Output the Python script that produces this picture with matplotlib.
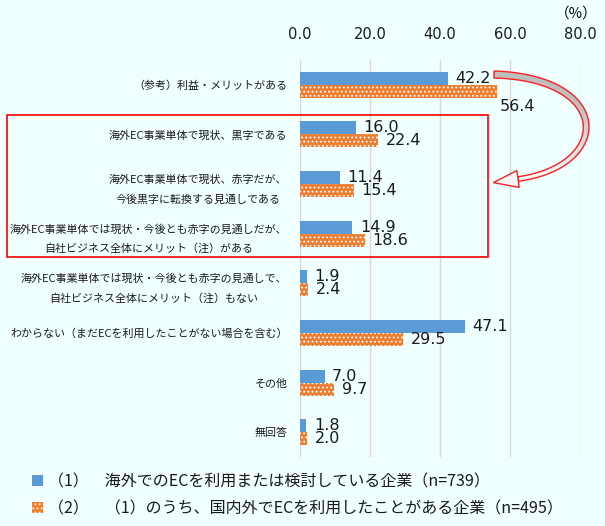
import numpy as np
import matplotlib
matplotlib.use('Agg')
import matplotlib.pyplot as plt
from matplotlib.patches import Rectangle, Polygon

# ---------------- data ----------------
categories = [
    "（参考）利益・メリットがある",
    "海外EC事業単体で現状、黒字である",
    "海外EC事業単体で現状、赤字だが、\n今後黒字に転換する見通しである",
    "海外EC事業単体では現状・今後とも赤字の見通しだが、\n自社ビジネス全体にメリット（注）がある",
    "海外EC事業単体では現状・今後とも赤字の見通しで、\n自社ビジネス全体にメリット（注）もない",
    "わからない（まだECを利用したことがない場合を含む）",
    "その他",
    "無回答",
]
series1 = [42.2, 16.0, 11.4, 14.9, 1.9, 47.1, 7.0, 1.8]
series2 = [56.4, 22.4, 15.4, 18.6, 2.4, 29.5, 9.7, 2.0]
series_labels = [
    "（1）　海外でのECを利用または検討している企業（n=739）",
    "（2）　（1）のうち、国内外でECを利用したことがある企業（n=495）",
]
xticks = [0, 20, 40, 60, 80]
unit_label = "（%）"

# ---------------- style ----------------
plt.rcParams['font.family'] = ['Noto Sans CJK JP', 'DejaVu Sans']
plt.rcParams['hatch.linewidth'] = 0.8
BG = '#F0FFFF'
BLUE = '#5B9BD5'
ORANGE = '#ED7D31'
W, H = 605, 526

fig = plt.figure(figsize=(W / 100, H / 100), dpi=100, facecolor=BG)
ax = fig.add_axes([300 / W, 1 - 457 / H, 280 / W, 397 / H], facecolor=BG)

y = np.arange(len(categories))
bh = 0.262
b1 = ax.barh(y - bh / 2, series1, height=bh, color=BLUE, linewidth=0, zorder=3)
b2 = ax.barh(y + bh / 2, series2, height=bh, color=ORANGE, edgecolor='white',
             hatch='....', linewidth=0, zorder=3)

ax.set_xlim(xticks[0], xticks[-1])
ax.set_ylim(len(categories) - 0.5, -0.5)
ax.xaxis.tick_top()
ax.set_xticks(xticks)
ax.set_xticklabels([f"{v:.1f}" for v in xticks], fontsize=10.5, family='DejaVu Sans')
ax.tick_params(axis='x', length=0, pad=13, colors='#1a1a1a')
ax.set_yticks(y)
ax.set_yticklabels(categories, fontsize=7.9, linespacing=2.05, multialignment='center')
ax.tick_params(axis='y', length=0, pad=9, colors='#1a1a1a')
ax.grid(axis='x', color='#D9D9D9', linewidth=1, zorder=0)
for s in ax.spines.values():
    s.set_visible(False)

special = {(2, 0): (2, -11)}
for si, (bars, vals) in enumerate(((b1, series1), (b2, series2))):
    for i, (rect, v) in enumerate(zip(bars, vals)):
        dx, dy = special.get((si + 1, i), (5.5, 0))
        ax.annotate(f"{v:.1f}", (v, rect.get_y() + rect.get_height() / 2),
                    xytext=(dx, dy), textcoords='offset points',
                    ha='left', va='center', fontsize=11.5, family='DejaVu Sans',
                    color='#1a1a1a', zorder=5)

fig.text(576 / W, 1 - 14 / H, unit_label, ha='center', va='center', fontsize=10.5)

# red highlight box
fig.add_artist(Rectangle((7 / W, 1 - 257 / H), 481 / W, 142 / H,
                         transform=fig.transFigure, fill=False,
                         edgecolor='#FF0000', linewidth=1.2))

# curved arrow (figure pixel coordinates, y downward)
def bez(t, p0, p1, p2, p3):
    t = t[:, None]
    return ((1 - t) ** 3) * p0 + 3 * ((1 - t) ** 2) * t * p1 + 3 * (1 - t) * t ** 2 * p2 + t ** 3 * p3

def to_fig(a):
    return np.column_stack([a[:, 0] / W, 1 - a[:, 1] / H])

P0 = np.array([494, 74.5]); C1 = np.array([613, 78]); C2 = np.array([612, 166]); P3 = np.array([518, 179])
t = np.linspace(0, 1, 120)
pts = bez(t, P0, C1, C2, P3)
d = np.gradient(pts, axis=0)
n = np.stack([-d[:, 1], d[:, 0]], axis=1)
n /= np.linalg.norm(n, axis=1)[:, None]
wid = np.linspace(7.0, 4.5, len(t))[:, None] / 2
outer = pts + n * wid
inner = pts - n * wid
c_start = np.array([0.74, 0.74, 0.74])
c_end = np.array([0.97, 0.97, 0.97])
for k in range(len(t) - 1):
    quad = np.vstack([outer[k], outer[k + 1], inner[k + 1], inner[k]])
    f = min(1.0, max(0.0, (t[k] - 0.35) / 0.55))
    col = c_start * (1 - f) + c_end * f
    fig.add_artist(Polygon(to_fig(quad), closed=True, transform=fig.transFigure,
                           facecolor=col, edgecolor=col, linewidth=0.3, zorder=6))
body = np.vstack([outer, inner[::-1]])
fig.add_artist(Polygon(to_fig(body), closed=True, transform=fig.transFigure,
                       fill=False, edgecolor='#FF2020', linewidth=1.0, zorder=7))
tang = d[-1] / np.linalg.norm(d[-1])
nn = np.array([-tang[1], tang[0]])
tip = P3 + tang * 25
head = np.vstack([P3 + nn * 8.5, tip, P3 - nn * 8.5])
fig.add_artist(Polygon(to_fig(head), closed=True, transform=fig.transFigure,
                       facecolor='#F6F6F6', edgecolor='#FF2020', linewidth=1.0, zorder=8))

# legend
leg = fig.legend([b1, b2], series_labels, loc='upper left',
                 bbox_to_anchor=(26 / W, 1 - 467 / H), frameon=False,
                 fontsize=11.5, handlelength=0.65, handleheight=0.65,
                 handletextpad=0.3, labelspacing=0.62, borderaxespad=0)
for txt in leg.get_texts():
    txt.set_color('#1a1a1a')

fig.savefig('out.png', dpi=100, facecolor=BG)
